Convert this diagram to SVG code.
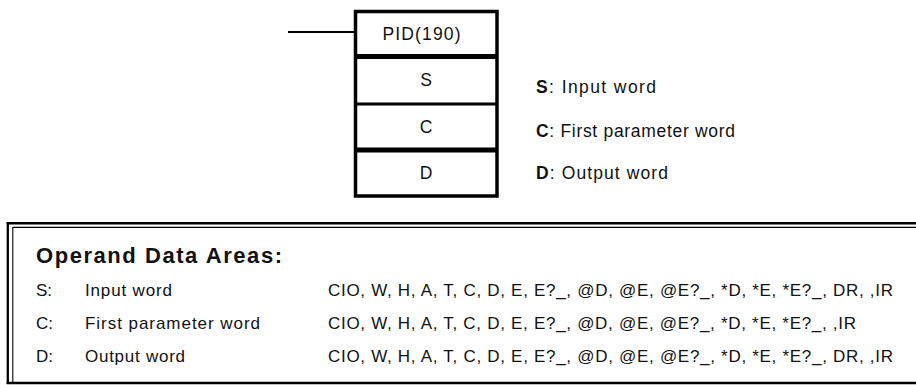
<svg xmlns="http://www.w3.org/2000/svg" width="916" height="385" viewBox="0 0 916 385">
<style>
text{font-family:"Liberation Sans",Arial,sans-serif;fill:#111;}
.t{font-size:17.5px;}
.c{text-anchor:middle;}
.b{font-weight:bold;}
.r{font-size:17px;}
.box{fill:#fff;stroke:#000;}
</style>
<rect width="916" height="385" fill="#fff"/>
<g id="connectors">
<line x1="288" y1="32" x2="355" y2="32" stroke="#000" stroke-width="2"/>
</g>
<g id="pid-block">
<rect class="box" x="355.5" y="11.5" width="141.5" height="184.5" stroke-width="3.5"/>
<line x1="355" y1="56.5" x2="497" y2="56.5" stroke="#000" stroke-width="5"/>
<line x1="355" y1="104" x2="497" y2="104" stroke="#000" stroke-width="3"/>
<line x1="355" y1="150" x2="497" y2="150" stroke="#000" stroke-width="5"/>
<text class="t c" x="421.5" y="40" textLength="78" lengthAdjust="spacing">PID(190)</text>
<text class="t c" x="426" y="86">S</text>
<text class="t c" x="426" y="133">C</text>
<text class="t c" x="426" y="179">D</text>
</g>
<g id="operand-labels">
<text class="t" x="536" y="93" textLength="120" lengthAdjust="spacing"><tspan class="b">S</tspan>: Input word</text>
<text class="t" x="536" y="137" textLength="199" lengthAdjust="spacing"><tspan class="b">C</tspan>: First parameter word</text>
<text class="t" x="536" y="179" textLength="132" lengthAdjust="spacing"><tspan class="b">D</tspan>: Output word</text>
</g>
<g id="operand-table">
<line x1="6.7" y1="223.3" x2="916" y2="223.3" stroke="#000" stroke-width="2.5"/>
<line x1="12.8" y1="227.3" x2="916" y2="227.3" stroke="#000" stroke-width="1.2"/>
<line x1="7.8" y1="222" x2="7.8" y2="384" stroke="#000" stroke-width="2.3"/>
<line x1="12.8" y1="227" x2="12.8" y2="384" stroke="#000" stroke-width="1.1"/>
<line x1="6.7" y1="383" x2="916" y2="383" stroke="#000" stroke-width="2.3"/>
<text class="b" x="36" y="263" font-size="22" textLength="246" lengthAdjust="spacing">Operand Data Areas:</text>
<text class="r" x="36" y="296">S:</text>
<text class="r" x="85" y="296" textLength="87" lengthAdjust="spacing">Input word</text>
<text class="r" x="328" y="296" textLength="565" lengthAdjust="spacing">CIO, W, H, A, T, C, D, E, E?_, @D, @E, @E?_, *D, *E, *E?_, DR, ,IR</text>
<text class="r" x="36" y="329">C:</text>
<text class="r" x="85" y="329" textLength="175" lengthAdjust="spacing">First parameter word</text>
<text class="r" x="328" y="329" textLength="528" lengthAdjust="spacing">CIO, W, H, A, T, C, D, E, E?_, @D, @E, @E?_, *D, *E, *E?_, ,IR</text>
<text class="r" x="36" y="362">D:</text>
<text class="r" x="85" y="362" textLength="100" lengthAdjust="spacing">Output word</text>
<text class="r" x="328" y="362" textLength="565" lengthAdjust="spacing">CIO, W, H, A, T, C, D, E, E?_, @D, @E, @E?_, *D, *E, *E?_, DR, ,IR</text>
</g>
</svg>
